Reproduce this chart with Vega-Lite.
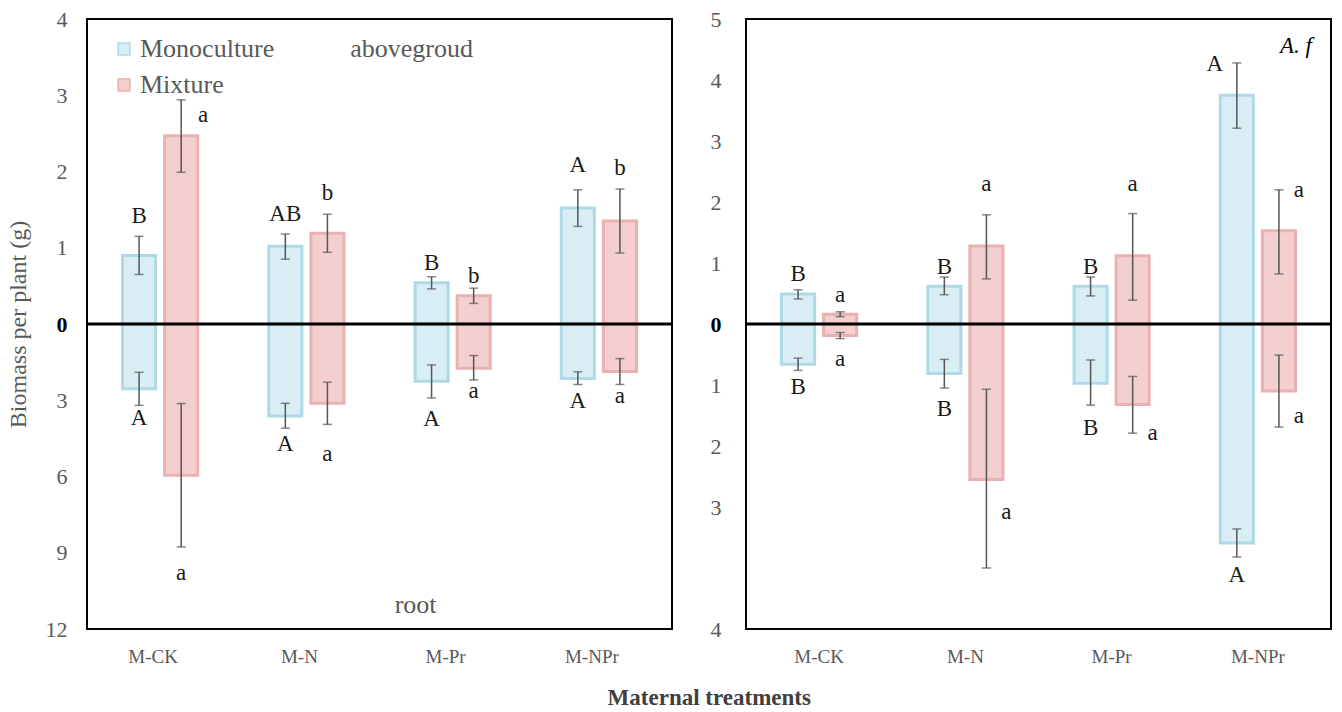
{
  "$schema": "https://vega.github.io/schema/vega-lite/v6.json",
  "padding": {"left": 5, "top": 7, "right": 2, "bottom": 2},
  "config": {
    "font": "'Liberation Serif', 'Times New Roman', serif",
    "view": {"stroke": "black", "strokeWidth": 2},
    "text": {"font": "'Liberation Serif', 'Times New Roman', serif"},
    "legend": {"labelFont": "'Liberation Serif', 'Times New Roman', serif"},
    "title": {"font": "'Liberation Serif', 'Times New Roman', serif"},
    "axis": {"grid": false, "ticks": false, "tickSize": 0, "domain": false, "labelFont": "'Liberation Serif', 'Times New Roman', serif", "labelColor": "#595959", "labelFontSize": 22, "titleFont": "'Liberation Serif', 'Times New Roman', serif"},
    "concat": {"spacing": 34}
  },
  "title": {"text": "Maternal treatments", "orient": "bottom", "anchor": "middle", "frame": "bounds", "dx": 40, "fontSize": 23, "fontWeight": "bold", "color": "#404040", "offset": 20},
  "datasets": {
    "left": [
      {"trt": "M-CK", "group": "Monoculture", "part": "aboveground", "value": 0.90, "lo": 0.65, "hi": 1.15},
      {"trt": "M-CK", "group": "Mixture", "part": "aboveground", "value": 2.47, "lo": 1.99, "hi": 2.94},
      {"trt": "M-N", "group": "Monoculture", "part": "aboveground", "value": 1.02, "lo": 0.85, "hi": 1.18},
      {"trt": "M-N", "group": "Mixture", "part": "aboveground", "value": 1.19, "lo": 0.94, "hi": 1.44},
      {"trt": "M-Pr", "group": "Monoculture", "part": "aboveground", "value": 0.54, "lo": 0.46, "hi": 0.62},
      {"trt": "M-Pr", "group": "Mixture", "part": "aboveground", "value": 0.37, "lo": 0.27, "hi": 0.47},
      {"trt": "M-NPr", "group": "Monoculture", "part": "aboveground", "value": 1.52, "lo": 1.28, "hi": 1.76},
      {"trt": "M-NPr", "group": "Mixture", "part": "aboveground", "value": 1.35, "lo": 0.93, "hi": 1.77},
      {"trt": "M-CK", "group": "Monoculture", "part": "root", "value": -2.55, "lo": -3.2, "hi": -1.9},
      {"trt": "M-CK", "group": "Mixture", "part": "root", "value": -5.95, "lo": -8.77, "hi": -3.13},
      {"trt": "M-N", "group": "Monoculture", "part": "root", "value": -3.62, "lo": -4.1, "hi": -3.12},
      {"trt": "M-N", "group": "Mixture", "part": "root", "value": -3.12, "lo": -3.95, "hi": -2.29},
      {"trt": "M-Pr", "group": "Monoculture", "part": "root", "value": -2.25, "lo": -2.91, "hi": -1.61},
      {"trt": "M-Pr", "group": "Mixture", "part": "root", "value": -1.74, "lo": -2.2, "hi": -1.24},
      {"trt": "M-NPr", "group": "Monoculture", "part": "root", "value": -2.14, "lo": -2.38, "hi": -1.88},
      {"trt": "M-NPr", "group": "Mixture", "part": "root", "value": -1.87, "lo": -2.38, "hi": -1.36}
    ],
    "right": [
      {"trt": "M-CK", "group": "Monoculture", "part": "aboveground", "value": 0.49, "lo": 0.41, "hi": 0.56},
      {"trt": "M-CK", "group": "Mixture", "part": "aboveground", "value": 0.16, "lo": 0.12, "hi": 0.20},
      {"trt": "M-N", "group": "Monoculture", "part": "aboveground", "value": 0.62, "lo": 0.48, "hi": 0.77},
      {"trt": "M-N", "group": "Mixture", "part": "aboveground", "value": 1.28, "lo": 0.74, "hi": 1.79},
      {"trt": "M-Pr", "group": "Monoculture", "part": "aboveground", "value": 0.62, "lo": 0.46, "hi": 0.77},
      {"trt": "M-Pr", "group": "Mixture", "part": "aboveground", "value": 1.12, "lo": 0.39, "hi": 1.81},
      {"trt": "M-NPr", "group": "Monoculture", "part": "aboveground", "value": 3.75, "lo": 3.21, "hi": 4.28},
      {"trt": "M-NPr", "group": "Mixture", "part": "aboveground", "value": 1.53, "lo": 0.82, "hi": 2.2},
      {"trt": "M-CK", "group": "Monoculture", "part": "root", "value": -0.66, "lo": -0.76, "hi": -0.56},
      {"trt": "M-CK", "group": "Mixture", "part": "root", "value": -0.19, "lo": -0.24, "hi": -0.14},
      {"trt": "M-N", "group": "Monoculture", "part": "root", "value": -0.81, "lo": -1.05, "hi": -0.58},
      {"trt": "M-N", "group": "Mixture", "part": "root", "value": -2.55, "lo": -4.0, "hi": -1.07},
      {"trt": "M-Pr", "group": "Monoculture", "part": "root", "value": -0.97, "lo": -1.33, "hi": -0.59},
      {"trt": "M-Pr", "group": "Mixture", "part": "root", "value": -1.32, "lo": -1.79, "hi": -0.86},
      {"trt": "M-NPr", "group": "Monoculture", "part": "root", "value": -3.59, "lo": -3.82, "hi": -3.36},
      {"trt": "M-NPr", "group": "Mixture", "part": "root", "value": -1.10, "lo": -1.69, "hi": -0.51}
    ],
    "leftLetters": [
      {"trt": "M-CK", "group": "Monoculture", "letter": "B", "y": 1.42, "side": "center"},
      {"trt": "M-CK", "group": "Mixture", "letter": "a", "y": 2.74, "side": "right"},
      {"trt": "M-N", "group": "Monoculture", "letter": "AB", "y": 1.44, "side": "center"},
      {"trt": "M-N", "group": "Mixture", "letter": "b", "y": 1.72, "side": "center"},
      {"trt": "M-Pr", "group": "Monoculture", "letter": "B", "y": 0.80, "side": "center"},
      {"trt": "M-Pr", "group": "Mixture", "letter": "b", "y": 0.63, "side": "center"},
      {"trt": "M-NPr", "group": "Monoculture", "letter": "A", "y": 2.09, "side": "center"},
      {"trt": "M-NPr", "group": "Mixture", "letter": "b", "y": 2.05, "side": "center"},
      {"trt": "M-CK", "group": "Monoculture", "letter": "A", "y": -3.70, "side": "center"},
      {"trt": "M-CK", "group": "Mixture", "letter": "a", "y": -9.80, "side": "center"},
      {"trt": "M-N", "group": "Monoculture", "letter": "A", "y": -4.72, "side": "center"},
      {"trt": "M-N", "group": "Mixture", "letter": "a", "y": -5.11, "side": "center"},
      {"trt": "M-Pr", "group": "Monoculture", "letter": "A", "y": -3.74, "side": "center"},
      {"trt": "M-Pr", "group": "Mixture", "letter": "a", "y": -2.64, "side": "center"},
      {"trt": "M-NPr", "group": "Monoculture", "letter": "A", "y": -3.03, "side": "center"},
      {"trt": "M-NPr", "group": "Mixture", "letter": "a", "y": -2.83, "side": "center"}
    ],
    "rightLetters": [
      {"trt": "M-CK", "group": "Monoculture", "letter": "B", "y": 0.82, "side": "center"},
      {"trt": "M-CK", "group": "Mixture", "letter": "a", "y": 0.48, "side": "center"},
      {"trt": "M-N", "group": "Monoculture", "letter": "B", "y": 0.94, "side": "center"},
      {"trt": "M-N", "group": "Mixture", "letter": "a", "y": 2.29, "side": "center"},
      {"trt": "M-Pr", "group": "Monoculture", "letter": "B", "y": 0.94, "side": "center"},
      {"trt": "M-Pr", "group": "Mixture", "letter": "a", "y": 2.30, "side": "center"},
      {"trt": "M-NPr", "group": "Monoculture", "letter": "A", "y": 4.26, "side": "left"},
      {"trt": "M-NPr", "group": "Mixture", "letter": "a", "y": 2.2, "side": "right"},
      {"trt": "M-CK", "group": "Monoculture", "letter": "B", "y": -1.04, "side": "center"},
      {"trt": "M-CK", "group": "Mixture", "letter": "a", "y": -0.58, "side": "center"},
      {"trt": "M-N", "group": "Monoculture", "letter": "B", "y": -1.40, "side": "center"},
      {"trt": "M-N", "group": "Mixture", "letter": "a", "y": -3.08, "side": "right"},
      {"trt": "M-Pr", "group": "Monoculture", "letter": "B", "y": -1.71, "side": "center"},
      {"trt": "M-Pr", "group": "Mixture", "letter": "a", "y": -1.79, "side": "right"},
      {"trt": "M-NPr", "group": "Monoculture", "letter": "A", "y": -4.11, "side": "center"},
      {"trt": "M-NPr", "group": "Mixture", "letter": "a", "y": -1.50, "side": "right"}
    ]
  },
  "resolve": {"scale": {"x": "independent", "y": "independent", "fill": "independent", "stroke": "independent"}},
  "hconcat": [
    {
      "width": 585,
      "height": 610,
      "encoding": {
        "x": {"field": "trt", "type": "nominal", "sort": ["M-CK", "M-N", "M-Pr", "M-NPr"], "scale": {"paddingInner": 0.486, "paddingOuter": 0.243}, "axis": {"title": null, "labelAngle": 0, "labelPadding": 18, "labelFontSize": 19, "labelOffset": -7}},
        "xOffset": {"field": "group", "type": "nominal", "sort": ["Monoculture", "Mixture"], "scale": {"paddingInner": 0.214, "paddingOuter": 0}}
      },
      "layer": [
        {
          "data": {"name": "left"},
          "mark": {"type": "bar", "strokeWidth": 3},
          "encoding": {
            "y": {"field": "value", "type": "quantitative", "scale": {"domain": [-12, 0, 4], "range": [610, 305, 0], "nice": false, "zero": false},
              "axis": {"values": [-12, -9, -6, -3, 0, 1, 2, 3, 4], "labelExpr": "'' + abs(datum.value)", "labelPadding": 20, "title": "Biomass per plant (g)", "titleFontSize": 24, "titleFontWeight": "normal", "titleColor": "#595959", "titlePadding": 15,
                "labelFontWeight": {"condition": {"test": "datum.value == 0", "value": "bold"}, "value": "normal"},
                "labelColor": {"condition": {"test": "datum.value == 0", "value": "#000000"}, "value": "#595959"}}},
            "y2": {"datum": 0},
            "fill": {"field": "group", "type": "nominal", "sort": ["Monoculture", "Mixture"], "scale": {"domain": ["Monoculture", "Mixture"], "range": ["#d9eef4", "#f4cfcf"]},
              "legend": {"orient": "none", "legendX": 24, "legendY": 17, "title": null, "labelFontSize": 26, "labelColor": "#595959", "symbolType": "square", "symbolSize": 140, "symbolStrokeWidth": 1.5, "rowPadding": 10, "labelOffset": 3}},
            "stroke": {"field": "group", "type": "nominal", "sort": ["Monoculture", "Mixture"], "scale": {"domain": ["Monoculture", "Mixture"], "range": ["#aed9e6", "#e9b1b1"]},
              "legend": {"orient": "none", "legendX": 24, "legendY": 17, "title": null, "labelFontSize": 26, "labelColor": "#595959", "symbolType": "square", "symbolSize": 140, "symbolStrokeWidth": 1.5, "rowPadding": 10, "labelOffset": 3}}
          }
        },
        {
          "data": {"values": [{"zero": 0}]},
          "mark": {"type": "rule", "strokeWidth": 3, "color": "#000000"},
          "encoding": {"x": null, "xOffset": null, "y": {"field": "zero", "type": "quantitative"}}
        },
        {
          "data": {"name": "left"},
          "mark": {"type": "rule", "strokeWidth": 1.5, "color": "#555555"},
          "encoding": {"y": {"field": "lo", "type": "quantitative"}, "y2": {"field": "hi"}}
        },
        {
          "data": {"name": "left"},
          "mark": {"type": "tick", "size": 9, "thickness": 1.5, "color": "#555555"},
          "encoding": {"y": {"field": "lo", "type": "quantitative"}}
        },
        {
          "data": {"name": "left"},
          "mark": {"type": "tick", "size": 9, "thickness": 1.5, "color": "#555555"},
          "encoding": {"y": {"field": "hi", "type": "quantitative"}}
        },
        {
          "data": {"name": "leftLetters"},
          "transform": [{"filter": "datum.side == 'center'"}],
          "mark": {"type": "text", "fontSize": 23, "color": "#1a1a1a", "baseline": "middle"},
          "encoding": {"y": {"field": "y", "type": "quantitative"}, "text": {"field": "letter"}}
        },
        {
          "data": {"name": "leftLetters"},
          "transform": [{"filter": "datum.side == 'right'"}],
          "mark": {"type": "text", "fontSize": 23, "color": "#1a1a1a", "baseline": "middle", "dx": 22},
          "encoding": {"y": {"field": "y", "type": "quantitative"}, "text": {"field": "letter"}}
        },
        {
          "data": {"values": [{"note": "abovegroud", "trt": "M-Pr", "y": 3.61}]},
          "mark": {"type": "text", "fontSize": 26, "color": "#595959", "baseline": "middle", "dx": -41},
          "encoding": {"xOffset": null, "y": {"field": "y", "type": "quantitative"}, "text": {"field": "note"}}
        },
        {
          "data": {"values": [{"note": "root", "trt": "M-Pr", "y": -11.06}]},
          "mark": {"type": "text", "fontSize": 26, "color": "#595959", "baseline": "middle", "dx": -37},
          "encoding": {"xOffset": null, "y": {"field": "y", "type": "quantitative"}, "text": {"field": "note"}}
        }
      ]
    },
    {
      "width": 585,
      "height": 610,
      "encoding": {
        "x": {"field": "trt", "type": "nominal", "sort": ["M-CK", "M-N", "M-Pr", "M-NPr"], "scale": {"paddingInner": 0.486, "paddingOuter": 0.243}, "axis": {"title": null, "labelAngle": 0, "labelPadding": 18, "labelFontSize": 19}},
        "xOffset": {"field": "group", "type": "nominal", "sort": ["Monoculture", "Mixture"], "scale": {"paddingInner": 0.214, "paddingOuter": 0}}
      },
      "layer": [
        {
          "data": {"name": "right"},
          "mark": {"type": "bar", "strokeWidth": 3},
          "encoding": {
            "y": {"field": "value", "type": "quantitative", "scale": {"domain": [-5, 5], "nice": false, "zero": false},
              "axis": {"values": [-5, -3, -2, -1, 0, 1, 2, 3, 4, 5], "labelExpr": "datum.value == -5 ? '4' : '' + abs(datum.value)", "labelPadding": 25, "title": null,
                "labelFontWeight": {"condition": {"test": "datum.value == 0", "value": "bold"}, "value": "normal"},
                "labelColor": {"condition": {"test": "datum.value == 0", "value": "#000000"}, "value": "#595959"}}},
            "y2": {"datum": 0},
            "fill": {"field": "group", "type": "nominal", "sort": ["Monoculture", "Mixture"], "scale": {"domain": ["Monoculture", "Mixture"], "range": ["#d9eef4", "#f4cfcf"]}, "legend": null},
            "stroke": {"field": "group", "type": "nominal", "sort": ["Monoculture", "Mixture"], "scale": {"domain": ["Monoculture", "Mixture"], "range": ["#aed9e6", "#e9b1b1"]}, "legend": null}
          }
        },
        {
          "data": {"values": [{"zero": 0}]},
          "mark": {"type": "rule", "strokeWidth": 3, "color": "#000000"},
          "encoding": {"x": null, "xOffset": null, "y": {"field": "zero", "type": "quantitative"}}
        },
        {
          "data": {"name": "right"},
          "mark": {"type": "rule", "strokeWidth": 1.5, "color": "#555555"},
          "encoding": {"y": {"field": "lo", "type": "quantitative"}, "y2": {"field": "hi"}}
        },
        {
          "data": {"name": "right"},
          "mark": {"type": "tick", "size": 9, "thickness": 1.5, "color": "#555555"},
          "encoding": {"y": {"field": "lo", "type": "quantitative"}}
        },
        {
          "data": {"name": "right"},
          "mark": {"type": "tick", "size": 9, "thickness": 1.5, "color": "#555555"},
          "encoding": {"y": {"field": "hi", "type": "quantitative"}}
        },
        {
          "data": {"name": "rightLetters"},
          "transform": [{"filter": "datum.side == 'center'"}],
          "mark": {"type": "text", "fontSize": 23, "color": "#1a1a1a", "baseline": "middle"},
          "encoding": {"y": {"field": "y", "type": "quantitative"}, "text": {"field": "letter"}}
        },
        {
          "data": {"name": "rightLetters"},
          "transform": [{"filter": "datum.side == 'right'"}],
          "mark": {"type": "text", "fontSize": 23, "color": "#1a1a1a", "baseline": "middle", "dx": 20},
          "encoding": {"y": {"field": "y", "type": "quantitative"}, "text": {"field": "letter"}}
        },
        {
          "data": {"name": "rightLetters"},
          "transform": [{"filter": "datum.side == 'left'"}],
          "mark": {"type": "text", "fontSize": 23, "color": "#1a1a1a", "baseline": "middle", "dx": -22},
          "encoding": {"y": {"field": "y", "type": "quantitative"}, "text": {"field": "letter"}}
        },
        {
          "data": {"values": [{"note": "A. f", "trt": "M-NPr", "y": 4.56}]},
          "mark": {"type": "text", "fontSize": 23, "fontStyle": "italic", "color": "#000000", "baseline": "middle", "dx": 38},
          "encoding": {"xOffset": null, "y": {"field": "y", "type": "quantitative"}, "text": {"field": "note"}}
        }
      ]
    }
  ]
}
